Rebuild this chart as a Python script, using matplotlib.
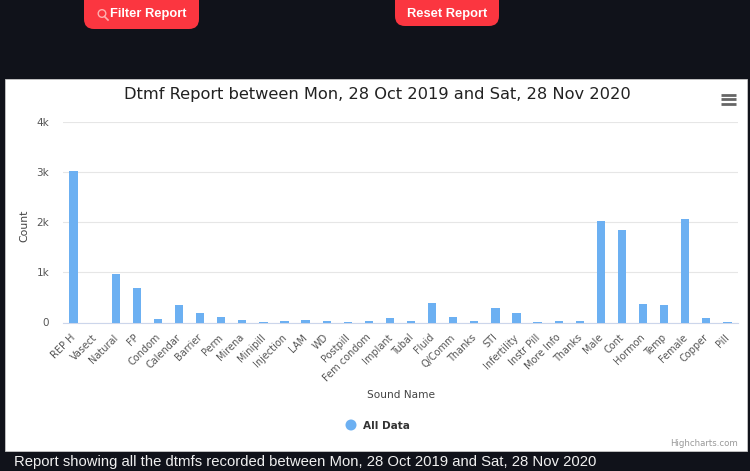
import matplotlib
matplotlib.use("Agg")
import matplotlib.pyplot as plt
from matplotlib.patches import FancyBboxPatch, Rectangle, Circle
from matplotlib.transforms import ScaledTranslation

sounds = ["REP H", "Vasect", "Natural", "FP", "Condom", "Calendar", "Barrier", "Perm",
          "Mirena", "Minipill", "Injection", "LAM", "WD", "Postpill", "Fem condom", "Implant",
          "Tubal", "Fluid", "Q/Comm", "Thanks", "STI", "Infertility", "Instr Pill", "More Info",
          "Thanks", "Male", "Cont", "Hormon", "Temp", "Female", "Copper", "Pill"]
counts = [3020, 0, 960, 680, 70, 340, 180, 110,
          50, 5, 25, 45, 25, 5, 25, 80,
          25, 380, 110, 25, 290, 180, 5, 25,
          25, 2020, 1850, 360, 340, 2050, 80, 5]
yticks = [0, 1000, 2000, 3000, 4000]
ylabels = ["0", "1k", "2k", "3k", "4k"]

W, H = 750, 471
fig = plt.figure(figsize=(W / 100, H / 100), dpi=100, facecolor="#10121a")

# page layer, in pixels from the top left
bg = fig.add_axes([0, 0, 1, 1])
bg.set_xlim(0, W)
bg.set_ylim(H, 0)
bg.axis("off")
bg.add_patch(Rectangle((5, 79), 742, 372, fc="white", ec="#c8c8c8", lw=0.6))
bg.add_patch(FancyBboxPatch((84, -10), 115, 39, boxstyle="round,pad=0,rounding_size=10", fc="#fb3640", ec="none"))
bg.add_patch(FancyBboxPatch((395, -10), 104, 36, boxstyle="round,pad=0,rounding_size=10", fc="#fb3640", ec="none"))
bg.add_patch(Circle((102, 13.5), 3.8, fc="none", ec="#ffb0b0", lw=1.0))
bg.plot([104.5, 108], [16.5, 20], color="#ffb0b0", lw=1.2)
bg.text(148.5, 14, "Filter Report", color="white", fontsize=9.3, fontweight="bold",
        family="Liberation Sans", ha="center", va="center")
bg.text(447, 14, "Reset Report", color="white", fontsize=9.3, fontweight="bold",
        family="Liberation Sans", ha="center", va="center")
bg.text(377, 95, "Dtmf Report between Mon, 28 Oct 2019 and Sat, 28 Nov 2020", color="#222222",
        fontsize=11.7, ha="center", va="center")
for y in [94.5, 99, 103.5]:
    bg.plot([721, 736], [y, y], color="#666666", lw=2.0, solid_capstyle="butt")
bg.text(24, 226, "Count", color="#444444", fontsize=7.8, rotation=90, ha="center", va="center")
bg.text(401, 395, "Sound Name", color="#444444", fontsize=7.6, ha="center", va="center")
bg.add_patch(Circle((351, 425), 5.5, fc="#6cb0f2", ec="none"))
bg.text(363, 426, "All Data", color="#333333", fontsize=7.6, fontweight="bold", ha="left", va="center")
bg.text(738, 444, "Highcharts.com", color="#999999", fontsize=6.2, ha="right", va="center")
bg.text(14, 462, "Report showing all the dtmfs recorded between Mon, 28 Oct 2019 and Sat, 28 Nov 2020",
        color="#f0f0f0", fontsize=10.7, family="Liberation Sans", ha="left", va="center")

# chart
ax = fig.add_axes([63 / W, 1 - 322.5 / H, 675 / W, 201 / H])
ax.patch.set_alpha(0)
x = list(range(len(sounds)))
ax.bar(x, counts, width=0.39, color="#6cb0f2", zorder=3)
ax.set_xlim(-0.5, len(sounds) - 0.5)
ax.set_ylim(0, 4000)
ax.set_yticks(yticks)
ax.set_yticklabels(ylabels)
ax.set_xticks(x)
ax.set_xticklabels(sounds)
ax.grid(axis="y", color="#e6e6e6", lw=0.8, zorder=0)
ax.set_axisbelow(True)
for s in ["top", "left", "right"]:
    ax.spines[s].set_visible(False)
ax.spines["bottom"].set_color("#ccd6eb")
ax.tick_params(axis="y", length=0, pad=10, labelsize=7.5, labelcolor="#555555")
ax.tick_params(axis="x", length=0, pad=7, labelsize=7.0, labelcolor="#555555")
shift = ScaledTranslation(-3 / 100, 0, fig.dpi_scale_trans)
for lab in ax.get_xticklabels():
    lab.set_rotation(45)
    lab.set_ha("right")
    lab.set_rotation_mode("anchor")
    lab.set_transform(lab.get_transform() + shift)

fig.savefig("out.png", dpi=100, facecolor=fig.get_facecolor())
